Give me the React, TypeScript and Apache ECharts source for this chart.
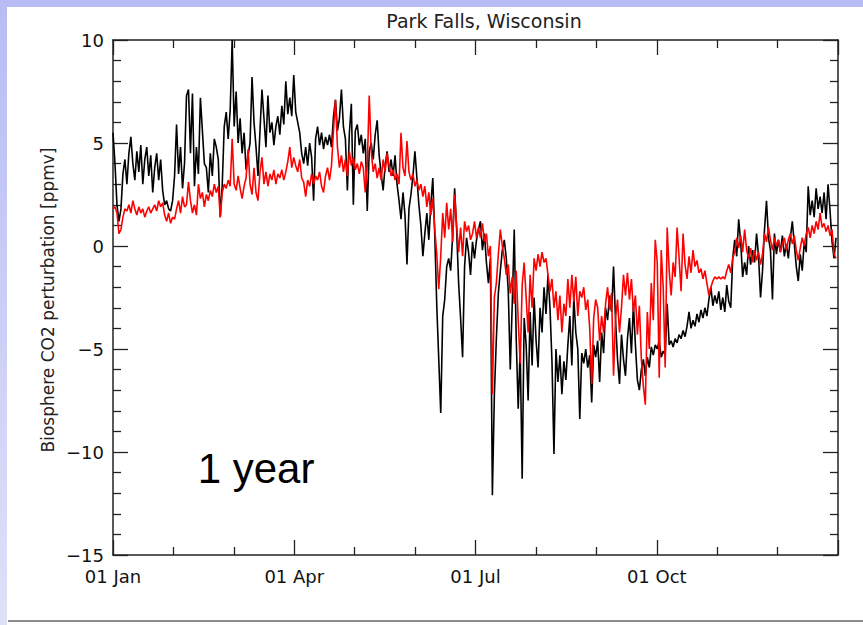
import { useEffect, useRef } from "react";
import * as echarts from "echarts";

// Quarter labels on the date axis (the last tick, 01 Jan of the next year, is left blank)
const quarterLabels = ["01 Jan", "01 Apr", "01 Jul", "01 Oct", ""];

// Daily biosphere CO2 perturbation at Park Falls [ppmv], day 0 = 01 Jan
const observed = [
  5.5, 4.0, 2.0, 1.2, 1.8, 3.5, 4.2, 3.0, 4.5, 5.3,
  4.0, 3.2, 4.6, 3.6, 4.9, 3.0, 4.2, 4.8, 3.4, 4.4,
  2.6, 3.8, 4.5, 3.2, 4.2, 2.7, 2.0, 2.2, 1.8, 1.7,
  2.2, 3.4, 5.9, 3.5, 4.8, 2.8, 4.0, 7.3, 7.6, 4.5,
  7.4, 2.9, 4.8, 3.5, 7.2, 5.6, 4.0, 3.8, 2.6, 4.5,
  3.4, 5.2, 4.8, 4.2, 1.4, 3.0, 5.8, 6.5, 5.2, 6.6,
  10.0, 5.8, 7.5, 5.0, 6.2, 4.5, 5.5, 3.7, 4.4, 5.0,
  8.2, 6.0, 4.8, 3.4, 5.6, 7.6, 6.2, 4.8, 7.3, 5.5,
  6.0, 4.9, 5.8, 6.3, 5.4, 6.8, 5.9, 8.0, 6.4, 7.2,
  6.3, 8.3, 6.5, 6.0, 5.5, 4.5, 4.0, 4.8, 3.9, 5.0,
  4.3, 2.2, 5.2, 5.8, 4.9, 5.5, 4.7, 5.3, 4.9, 5.4,
  4.8, 6.3, 7.1, 5.6, 6.2, 7.6, 5.8, 5.2, 2.7, 5.5,
  6.9, 2.0, 5.6, 5.9, 4.9, 5.4, 4.5, 5.2, 1.7, 4.6,
  5.0, 4.2, 5.4, 6.1, 4.4, 3.5, 2.7, 3.9, 4.6, 3.6,
  4.2, 3.4, 4.4, 3.0, 2.2, 1.3, 2.6, 1.5, -0.9, 1.8,
  2.5, 3.4, 4.6, 3.3, 2.0, 1.0, -0.5, 0.6, 1.6, 0.3,
  2.0, 3.3, 0.5, -2.9, -5.5, -8.1, -3.4, -2.6, -1.0, -0.6,
  -1.2, 0.5, 2.8, 0.8, -1.8, -3.5, -5.4, -1.0, 0.4, -0.3,
  -1.4, 0.2, -0.6, 0.3, 0.8, 1.2, -0.2, 0.6, -0.8, -1.8,
  -0.6, -12.1, -7.2, -4.5, -2.3, -1.2, -0.2, 0.3, -0.6, -2.2,
  -6.0, -2.8, 0.8, -4.5, -7.9, -5.0, -11.3, -3.5, -4.8, -7.5,
  -3.2, -5.8, -2.5, -4.6, -5.9, -3.0, -4.2, -2.0, -3.3, -1.4,
  -3.0, -5.6, -10.1, -5.0, -6.6, -5.3, -7.2, -5.6, -6.5, -4.8,
  -3.4, -5.8, -2.5, -4.2, -5.0, -8.4, -5.2, -5.7, -5.0, -5.9,
  -5.3, -7.6, -4.8, -5.4, -4.6, -6.6, -4.2, -5.2, -3.0, -3.6,
  -2.4, -3.2, -1.0, -3.6, -5.5, -6.7, -4.3, -5.5, -6.3, -4.5,
  -3.5, -5.2, -2.8, -4.8, -6.5, -7.0, -6.0, -5.5, -6.3, -5.4,
  -5.9, -4.9, -5.3, -4.8, -5.0, -4.6, -5.4, -5.1, -5.3, -2.8,
  -4.8, -4.6, -4.9, -4.5, -4.7, -4.3, -4.5, -4.1, -4.4, -3.9,
  -3.2, -4.0, -3.6, -3.9, -3.3, -3.7, -3.1, -3.5, -3.0, -3.4,
  -2.6, -2.0, -2.9, -2.4, -2.8, -2.2, -3.1, -2.5, -3.2, -1.9,
  -2.7, -3.0, -0.6, 0.3, -0.5, 1.3, 0.2, -1.5, -0.8, -1.4,
  0.0, -0.9, -0.2, -0.8, 0.6, -0.5, -2.5, -1.2, 0.8, 2.2,
  0.4, -0.2, -2.6, 0.6, -0.4, 0.3, -0.3, 0.5, -0.5, 0.1,
  -0.6, 0.4, 1.2, 0.1, -1.0, -1.7, -0.4, -1.2, 0.2, -0.3,
  2.9, 1.5, 2.2, 1.4, 2.8, 1.8, 2.4, 1.6, 2.6, 1.3,
  3.0, 1.7, 0.2, -0.6, 0.4,
];

const modeled = [
  1.8, 1.9, 1.6, 0.6, 0.8, 1.4, 1.8, 1.7, 2.0, 1.6,
  2.2, 1.8, 1.5, 1.9, 1.6, 1.8, 1.4, 1.7, 1.9, 1.6,
  1.8, 2.0, 1.7, 2.2, 1.9, 2.1, 1.5, 1.2, 1.6, 1.1,
  1.4, 1.3, 1.8, 2.2, 1.6, 2.4, 1.9, 2.0, 3.1, 2.2,
  1.6, 2.0, 1.5, 3.0, 2.3, 2.6, 1.9, 2.5, 2.2, 2.7,
  2.4, 3.0, 2.6, 2.9, 1.4, 2.6, 3.0, 2.8, 3.2, 2.9,
  5.2, 3.0, 2.7, 3.4, 2.8, 2.3, 2.9, 3.3, 4.7, 3.0,
  2.5, 3.8, 2.6, 2.2, 3.6, 4.3, 3.0, 3.6, 2.9, 3.5,
  3.2, 3.7, 3.0, 3.5, 3.3, 3.7, 3.2, 3.6, 4.1, 4.8,
  3.8, 4.3, 3.9, 3.6, 4.2, 3.3, 3.1, 2.4, 3.2, 2.9,
  3.5, 3.0, 3.4, 3.2, 3.6, 2.9, 2.6, 3.4, 3.8, 3.2,
  3.9, 5.6, 7.1, 4.8, 3.8, 4.4, 3.6, 4.2, 3.4, 4.6,
  3.9, 4.3, 3.7, 4.0, 3.5, 4.1, 3.8, 2.6, 3.9, 7.3,
  4.6, 3.6, 4.0, 3.3, 3.8, 3.2, 4.2, 3.6, 4.5, 3.9,
  3.4, 3.7, 3.2, 3.5, 3.0, 5.5, 3.8, 3.4, 5.1, 3.6,
  3.2, 3.5, 2.9, 3.2, 2.7, 3.0, 2.4, 2.9, 1.9, 2.6,
  1.5, 2.3, 0.8, -0.4, -2.1, -0.5, 1.6, 0.4, 2.1, 0.8,
  1.8, 0.2, 2.5, 1.0, -0.3, 0.9, -0.5, 1.2, 0.7, 1.0,
  0.3, 0.6, 1.2, 0.4, 0.9, 0.4, 1.1, 0.2, 0.6, -0.5,
  0.0, -7.2, -2.5, -1.8, -0.4, 0.8, 0.0, -0.6, -1.4, -0.9,
  -2.3, -1.5, -2.8, -1.2, -3.6, -5.7, -1.9, -0.8, -2.5, -4.2,
  -1.4, -3.0, -0.6, -1.2, -0.4, -1.0, -0.3, -0.8, -0.6, -1.4,
  -2.2, -1.6, -3.0, -2.2, -3.6, -2.4, -4.2, -2.8, -3.4, -1.6,
  -3.0, -1.4, -2.7, -1.5, -3.4, -2.2, -2.5, -2.0, -3.1, -2.6,
  -4.0, -6.7, -3.5, -2.6, -3.0, -4.6, -3.4, -4.2, -2.8, -2.0,
  -3.1, -2.3, -6.3, -3.5, -2.6, -4.2, -3.0, -1.4, -2.4, -1.3,
  -2.6, -1.6, -3.2, -2.4, -4.3, -2.9, -5.5, -6.8, -7.7, -3.2,
  -5.0, -1.8, -3.6, 0.3, -0.8, -6.4, -0.2, -2.0, -5.9, 0.9,
  -1.2, -2.4, -0.8, -1.5, 0.9, -0.6, -2.2, 0.6, -0.9, -1.6,
  -0.5, -1.3, -0.2, -1.0, -0.7, -1.3, -1.1, -1.6, -1.2, -1.8,
  -2.4, -2.0, -1.7, -1.5, -1.6, -1.5, -1.6, -1.5, -1.6, -1.2,
  -0.9, -1.3, -0.6, -0.3, 0.4, -0.1, 0.5, -0.3, 0.8, -0.2,
  -0.6, -0.1, -0.8, -0.2, -0.7, -0.3, -0.9, -0.4, 0.6, 0.2,
  0.9, 0.3, -0.2, 0.4, 0.0, 0.3, -0.3, 0.1, 0.4, -0.2,
  0.3, 0.6, 0.1, 0.5, -0.2, -0.7, -0.1, 0.4, 0.0, 0.6,
  0.9, 0.4, 1.0, 0.6, 1.2, 0.8, 1.6, 0.9, 1.1, 0.7,
  1.0, 0.5, 0.8, -0.4, -0.6,
];

const DAYS = 365;
const QUARTER = DAYS / 4;

export default function App() {
  const ref = useRef<HTMLDivElement>(null);

  useEffect(() => {
    const el = ref.current;
    if (!el) return;
    const chart = echarts.init(el, null, { renderer: "svg" });

    const frame = "#222";
    const labelFont = "DejaVu Sans";
    const tickStyle = { color: frame, width: 1.3 };

    const xBase = {
      type: "value",
      min: 0,
      max: DAYS,
      interval: QUARTER,
      axisLine: { show: true, onZero: false, lineStyle: { color: frame, width: 1.5 } },
      axisTick: { show: true, inside: true, length: 15, lineStyle: tickStyle },
      minorTick: { show: true, splitNumber: 3, length: 8, lineStyle: tickStyle },
      splitLine: { show: false },
      minorSplitLine: { show: false },
    };
    const yBase = {
      type: "value",
      min: -15,
      max: 10,
      interval: 5,
      axisLine: { show: true, onZero: false, lineStyle: { color: frame, width: 1.5 } },
      axisTick: { show: true, inside: true, length: 15, lineStyle: tickStyle },
      minorTick: { show: true, splitNumber: 5, length: 8, lineStyle: tickStyle },
      splitLine: { show: false },
      minorSplitLine: { show: false },
    };

    chart.setOption({
      animation: false,
      backgroundColor: "#ffffff",
      grid: { left: 113, right: 25, top: 40, bottom: 70, containLabel: false },
      xAxis: [
        {
          ...xBase,
          position: "bottom",
          axisLabel: {
            show: true,
            margin: 12,
            fontSize: 18,
            fontFamily: labelFont,
            color: "#111",
            formatter: (v: number) => quarterLabels[Math.round(v / QUARTER)] ?? "",
          },
        },
        { ...xBase, position: "top", axisLabel: { show: false } },
      ],
      yAxis: [
        {
          ...yBase,
          position: "left",
          axisLabel: {
            show: true,
            margin: 9,
            fontSize: 18,
            fontFamily: labelFont,
            color: "#111",
            formatter: (v: number) => (v < 0 ? "\u2212" + Math.abs(v) : String(v)),
          },
        },
        { ...yBase, position: "right", axisLabel: { show: false } },
      ],
      series: [
        {
          name: "observed",
          type: "line",
          xAxisIndex: 0,
          yAxisIndex: 0,
          symbol: "none",
          showSymbol: false,
          lineStyle: { color: "#000000", width: 1.6 },
          data: observed.map((v, i) => [i, v]),
          z: 2,
        },
        {
          name: "modeled",
          type: "line",
          xAxisIndex: 0,
          yAxisIndex: 0,
          symbol: "none",
          showSymbol: false,
          lineStyle: { color: "#ff0000", width: 1.6 },
          data: modeled.map((v, i) => [i, v]),
          z: 3,
        },
      ],
      graphic: [
        {
          type: "rect",
          z: -10,
          shape: { x: 0, y: 0, width: 863, height: 7 },
          style: { fill: "#b8bcf4" },
        },
        {
          type: "rect",
          z: -10,
          shape: { x: 0, y: 0, width: 7, height: 625 },
          style: {
            fill: new echarts.graphic.LinearGradient(0, 0, 0, 1, [
              { offset: 0, color: "#b8bcf4" },
              { offset: 1, color: "#dfe1f8" },
            ]),
          },
        },
        {
          type: "rect",
          z: -10,
          shape: { x: 8, y: 620, width: 855, height: 2 },
          style: { fill: "#8c8c8c" },
        },
        {
          type: "text",
          x: 484,
          y: 21,
          style: {
            text: "Park Falls, Wisconsin",
            fontFamily: labelFont,
            fontSize: 19,
            fill: "#222",
            textAlign: "center",
            textVerticalAlign: "middle",
          },
        },
        {
          type: "text",
          x: 48,
          y: 300,
          rotation: Math.PI / 2,
          style: {
            text: "Biosphere CO2 perturbation [ppmv]",
            fontFamily: labelFont,
            fontSize: 17,
            fill: "#222",
            textAlign: "center",
            textVerticalAlign: "middle",
          },
        },
        {
          type: "text",
          x: 256,
          y: 468,
          z: 10,
          style: {
            text: "1 year",
            fontFamily: "Liberation Sans",
            fontSize: 42,
            fill: "#000",
            textAlign: "center",
            textVerticalAlign: "middle",
          },
        },
      ],
    });

    return () => chart.dispose();
  }, []);

  return (
    <div
      ref={ref}
      style={{ position: "fixed", left: 0, top: 0, width: 863, height: 625 }}
    />
  );
}
